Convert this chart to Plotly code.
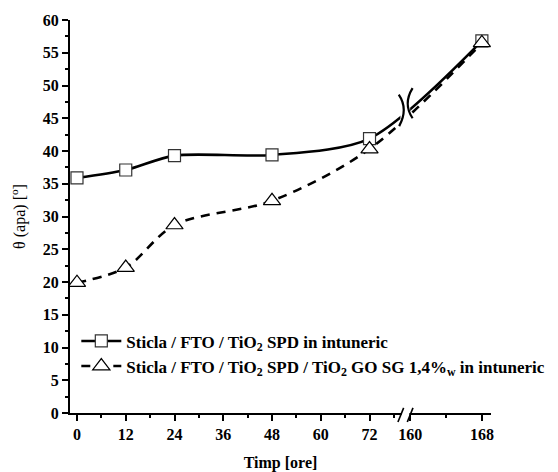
import plotly.graph_objects as go

# ---- data ----
hours = [0, 12, 24, 48, 72, 168]
theta_spd = [35.9, 37.1, 39.3, 39.4, 41.9, 56.8]
theta_spd_go = [19.9, 22.2, 28.7, 32.4, 40.3, 56.5]
tick_hours = [0, 12, 24, 36, 48, 60, 72, 160, 168]
tick_labels = ["0", "12", "24", "36", "48", "60", "72", "160", "168"]
minor_hours = [6, 18, 30, 42, 54, 66, 78, 164]
name_spd = "Sticla / FTO / TiO<sub>2</sub> SPD in intuneric"
name_go = "Sticla / FTO / TiO<sub>2</sub> SPD / TiO<sub>2</sub> GO SG 1,4%<sub>w</sub> in intuneric"

# ---- broken x scale (two linear segments) ----
SEG2_T0 = 160.0      # first hour of the second segment
SEG2_U0 = 82.0       # axis position of that hour
SEG2_SCALE = 2.207   # second segment is stretched


def to_axis(t):
    return t if t <= 100 else SEG2_U0 + (t - SEG2_T0) * SEG2_SCALE


x_pos = [to_axis(t) for t in hours]
tickvals = [to_axis(t) for t in tick_hours]
minorvals = [to_axis(t) for t in minor_hours]

FONT = "Liberation Serif"
FS = 16

fig = go.Figure()
fig.add_trace(go.Scatter(
    x=x_pos, y=theta_spd, name=name_spd, mode="lines+markers",
    line=dict(color="black", width=2.6, shape="spline", smoothing=0.8),
    marker=dict(symbol="square", size=12, color="white",
                line=dict(color="#333", width=1.2)),
))
fig.add_trace(go.Scatter(
    x=x_pos, y=theta_spd_go, name=name_go, mode="lines+markers",
    line=dict(color="black", width=2.6, dash="9px,7px", shape="spline", smoothing=0.9),
    marker=dict(symbol="triangle-up", size=15, color="white",
                line=dict(color="black", width=1.2)),
))

shapes = []
# gap on the x axis line, then the two slashes
shapes.append(dict(type="rect", xref="x", yref="paper", x0=79.9, x1=81.8, y0=-0.012, y1=0.012,
                   fillcolor="white", line=dict(width=0), layer="above"))
for xc in (79.7, 82.0):
    shapes.append(dict(type="line", xref="x", yref="paper", x0=xc - 0.7, x1=xc + 0.7,
                       y0=-0.023, y1=0.013, line=dict(color="black", width=1.6), layer="above"))
# break marks on the curves
shapes.append(dict(type="path", xref="x", yref="y",
                   path="M 79.6,48.6 L 82.0,49.3 L 82.0,43.0 L 79.6,42.8 Z",
                   fillcolor="white", line=dict(width=0), layer="above"))
shapes.append(dict(type="path", xref="x", yref="y",
                   path="M 79.2,48.6 Q 81.6,46.4 79.3,43.8",
                   line=dict(color="black", width=2.2), layer="above"))
shapes.append(dict(type="path", xref="x", yref="y",
                   path="M 82.6,49.6 Q 80.2,47.2 82.6,45.0",
                   line=dict(color="black", width=2.2), layer="above"))

# the page body has an 8px margin, so the figure is 8px smaller than the window
fig.update_layout(
    width=550, height=464,
    margin=dict(l=62, r=67, t=12, b=59, autoexpand=False),
    paper_bgcolor="white", plot_bgcolor="white",
    font=dict(family=FONT, color="black", size=FS),
    showlegend=True,
    legend=dict(x=0.015, y=0.228, xanchor="left", yanchor="top",
                bgcolor="rgba(0,0,0,0)", font=dict(size=17, weight="bold", family=FONT),
                itemwidth=40, tracegroupgap=0),
    shapes=shapes,
)
fig.update_xaxes(
    range=[-1.72, 101.9], showgrid=False, zeroline=False,
    showline=True, linecolor="black", linewidth=2,
    tickmode="array", tickvals=tickvals, ticktext=tick_labels,
    ticks="outside", ticklen=6, tickwidth=1.5, tickcolor="black",
    tickfont=dict(size=FS, weight="bold", family=FONT),
    minor=dict(tickvals=minorvals, ticks="outside", ticklen=3, tickwidth=1.5, tickcolor="black"),
    title=dict(text="Timp [ore]", font=dict(size=FS, weight="bold", family=FONT), standoff=19),
)
fig.update_yaxes(
    range=[0, 60], showgrid=False, zeroline=False,
    showline=True, linecolor="black", linewidth=2,
    tick0=0, dtick=5, ticks="outside", ticklen=6, tickwidth=1.5, tickcolor="black",
    tickfont=dict(size=FS, weight="bold", family=FONT),
    minor=dict(dtick=2.5, ticks="outside", ticklen=3, tickwidth=1.5, tickcolor="black"),
    title=dict(text="θ (apa) [<sup>o</sup>]", font=dict(size=FS, family=FONT), standoff=19),
)

fig.write_html("out.html")
